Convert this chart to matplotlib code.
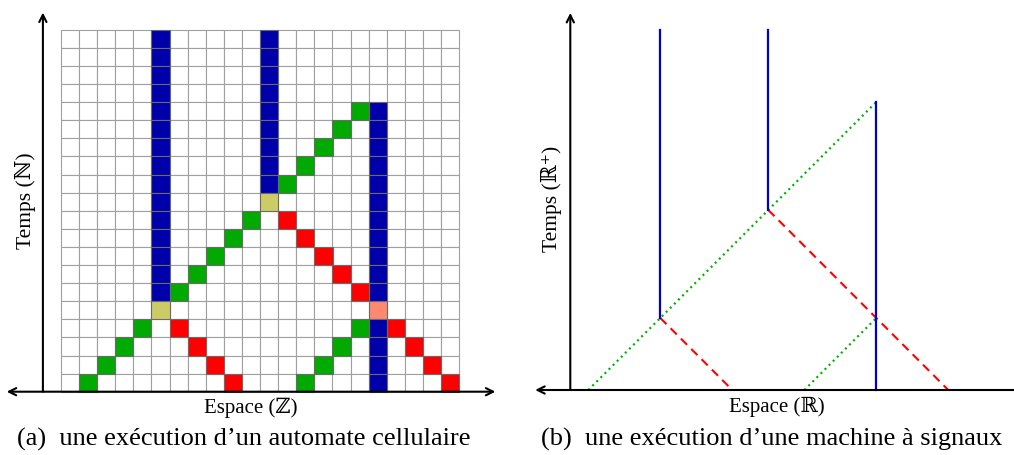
import matplotlib
matplotlib.use("Agg")
import matplotlib.pyplot as plt
from matplotlib.patches import Rectangle

plt.rcParams['font.family'] = ['Liberation Serif', 'DejaVu Serif']

# ---------------- data ----------------
# cellular automaton space-time diagram, top row first (time 19 .. 0), 22 cells
# '.' empty, B blue (wall), G green (right signal), R red (left signal),
# Y yellow (collision), S salmon (collision on wall)
ca_rows = [
    ".....B.....B..........",  # t=19
    ".....B.....B..........",  # t=18
    ".....B.....B..........",  # t=17
    ".....B.....B..........",  # t=16
    ".....B.....B....GB....",  # t=15
    ".....B.....B...G.B....",  # t=14
    ".....B.....B..G..B....",  # t=13
    ".....B.....B.G...B....",  # t=12
    ".....B.....BG....B....",  # t=11
    ".....B.....Y.....B....",  # t=10
    ".....B....G.R....B....",  # t=9
    ".....B...G...R...B....",  # t=8
    ".....B..G.....R..B....",  # t=7
    ".....B.G.......R.B....",  # t=6
    ".....BG.........RB....",  # t=5
    ".....Y...........S....",  # t=4
    "....G.R.........GBR...",  # t=3
    "...G...R.......G.B.R..",  # t=2
    "..G.....R.....G..B..R.",  # t=1
    ".G.......R...G...B...R",  # t=0
]
state_colors = {'B': '#0000AA', 'G': '#00AA00', 'R': '#FF0000',
                'Y': '#CCCC66', 'S': '#FF8870'}

# signal machine: segments (x0, t0, x1, t1)
blue_segments = [(5, 4, 5, 20), (11, 10, 11, 20), (17, 0, 17, 16)]
green_segments = [(1, 0, 17, 16), (13, 0, 17, 4)]
red_segments = [(5, 4, 9, 0), (11, 10, 21, 0)]

labels_a = ("Temps (\u2115)", "Espace (\u2124)",
            "(a)  une exécution d\u2019un automate cellulaire")
labels_b = ("Temps (\u211D\u207A)", "Espace (\u211D)",
            "(b)  une exécution d\u2019une machine à signaux")

# ---------------- figure ----------------
W, H = 1014, 455
fig = plt.figure(figsize=(W / 100, H / 100), dpi=100)


def place(x0, y0, s, xlim, ylim):
    left = (x0 + s * xlim[0]) / W
    width = s * (xlim[1] - xlim[0]) / W
    top_px = y0 - s * ylim[1]
    bottom_px = y0 - s * ylim[0]
    ax = fig.add_axes([left, 1 - bottom_px / H, width, (bottom_px - top_px) / H])
    ax.set_xlim(xlim)
    ax.set_ylim(ylim)
    ax.axis('off')
    return ax


def ftext(x, y, s, **kw):
    fig.text(x / W, 1 - y / H, s, ha='center', va='center', **kw)


# ---- (a) cellular automaton ----
axa = place(61, 391.7, 18.1, (-3.37, 24.3), (-3.5, 21.65))
nrows = len(ca_rows)
for i, row in enumerate(ca_rows):
    t = nrows - 1 - i
    for x, c in enumerate(row):
        if c == '.':
            axa.add_patch(Rectangle((x, t), 1, 1, facecolor='white',
                                    edgecolor='#A0A0A0', lw=0.8, zorder=1))
for i, row in enumerate(ca_rows):
    t = nrows - 1 - i
    for x, c in enumerate(row):
        if c != '.':
            axa.add_patch(Rectangle((x, t), 1, 1, facecolor=state_colors[c],
                                    edgecolor='#6A6A6A', lw=0.8, zorder=2))

arrow_kw = dict(lw=1.5, color='black', shrinkA=0, shrinkB=0, mutation_scale=13)
axa.annotate('', xy=(-1, 20.95), xytext=(-1, 0),
             arrowprops=dict(arrowstyle='->', **arrow_kw), annotation_clip=False)
axa.annotate('', xy=(24.0, 0), xytext=(-3.0, 0),
             arrowprops=dict(arrowstyle='<->', **arrow_kw), annotation_clip=False)

ftext(25, 201, labels_a[0], rotation=90, fontsize=15.5)
ftext(251, 408, labels_a[1], fontsize=15)
ftext(244, 439, labels_a[2], fontsize=19)

# ---- (b) signal machine ----
axb = place(570.3, 390, 18.0, (-2.2, 24.6), (-3.6, 21.65))
for (x0, t0, x1, t1) in green_segments:
    axb.plot([x0, x1], [t0, t1], color='#00B000', lw=1.6,
             linestyle=(0, (0.9, 1.7)), zorder=2)
for (x0, t0, x1, t1) in red_segments:
    axb.plot([x0, x1], [t0, t1], color='#FF0000', lw=1.5,
             linestyle=(0, (4.2, 2.8)), zorder=2)
for (x0, t0, x1, t1) in blue_segments:
    axb.plot([x0, x1], [t0, t1], color='#0000CC', lw=1.6, zorder=3)

axb.annotate('', xy=(0, 20.95), xytext=(0, 0),
             arrowprops=dict(arrowstyle='->', **arrow_kw), annotation_clip=False)
axb.annotate('', xy=(25.6, 0), xytext=(-1.95, 0),
             arrowprops=dict(arrowstyle='<-', **arrow_kw), annotation_clip=False)

ftext(552, 199, labels_b[0], rotation=90, fontsize=15.5)
ftext(777, 407, labels_b[1], fontsize=15)
ftext(772, 439, labels_b[2], fontsize=19)

fig.savefig('out.png', dpi=100)
